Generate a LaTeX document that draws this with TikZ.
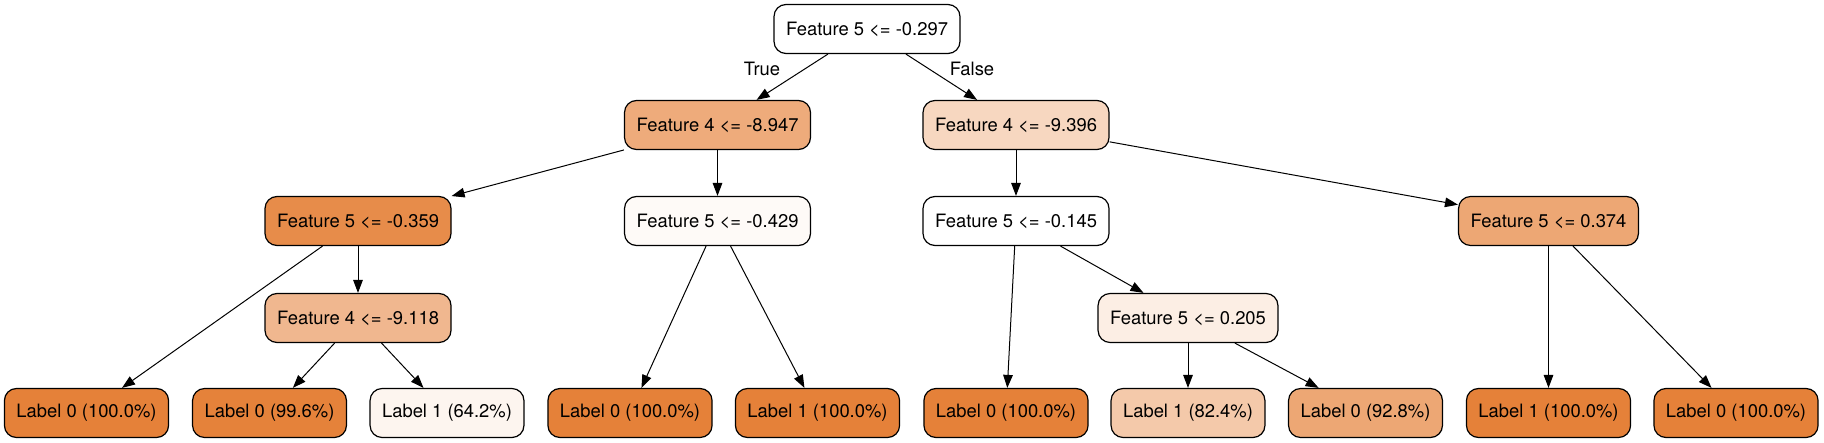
\documentclass[tikz,border=0pt]{standalone}
\usepackage{fontspec}
\setmainfont{TeX Gyre Heros}
\usetikzlibrary{arrows.meta}

\definecolor{pure}{HTML}{E58139}
\definecolor{nearpure}{HTML}{E5823A}
\definecolor{deep}{HTML}{E78C4A}
\definecolor{mid}{HTML}{EEAB7B}
\definecolor{midb}{HTML}{EDA774}
\definecolor{light}{HTML}{F0B78F}
\definecolor{pale}{HTML}{F4C9AA}
\definecolor{paler}{HTML}{F7D7C0}
\definecolor{faint}{HTML}{FCEEE4}
\definecolor{fainter}{HTML}{FDF5EF}
\definecolor{ghost}{HTML}{FEFAF7}

\begin{document}
\begin{tikzpicture}[x=0.5pt, y=-0.5pt,
    box/.style={rectangle, draw, line width=0.6pt, rounded corners=6pt,
                minimum height=24.5pt, inner xsep=6pt,
                font=\fontsize{9.2pt}{11pt}\selectfont},
    edge/.style={-{Triangle[length=6.5pt, width=4.8pt]}, line width=0.5pt},
    edgelabel/.style={font=\fontsize{9.2pt}{11pt}\selectfont},
  ]
  \useasboundingbox (0,0) rectangle (1824,443);
  %splits
  \node[box, fill=white](root) at (867,29) {Feature 5 <= -0.297};
  \node[box, fill=mid](f4a) at (717.5,125) {Feature 4 <= -8.947};
  \node[box, fill=paler](f4b) at (1016,125) {Feature 4 <= -9.396};
  \node[box, fill=deep](f5a) at (358,221) {Feature 5 <= -0.359};
  \node[box, fill=ghost](f5b) at (717.5,221) {Feature 5 <= -0.429};
  \node[box, fill=white](f5c) at (1016,221) {Feature 5 <= -0.145};
  \node[box, fill=midb](f5d) at (1548.5,221) {Feature 5 <= 0.374};
  \node[box, fill=light](f4c) at (358,318) {Feature 4 <= -9.118};
  \node[box, fill=faint](f5e) at (1188,318) {Feature 5 <= 0.205};
  %leaves
  \node[box, fill=pure](l1) at (86.5,413) {Label 0 (100.0\%)};
  \node[box, fill=nearpure](l2) at (269.5,413) {Label 0 (99.6\%)};
  \node[box, fill=fainter](l3) at (447,413) {Label 1 (64.2\%)};
  \node[box, fill=pure](l4) at (630,413) {Label 0 (100.0\%)};
  \node[box, fill=pure](l5) at (817.5,413) {Label 1 (100.0\%)};
  \node[box, fill=pure](l6) at (1006,413) {Label 0 (100.0\%)};
  \node[box, fill=pale](l7) at (1188,413) {Label 1 (82.4\%)};
  \node[box, fill=midb](l8) at (1365.5,413) {Label 0 (92.8\%)};
  \node[box, fill=pure](l9) at (1548.5,413) {Label 1 (100.0\%)};
  \node[box, fill=pure](l10) at (1736,413) {Label 0 (100.0\%)};
  %edges
  \draw[edge] (root) -- (f4a);
  \draw[edge] (root) -- (f4b);
  \node[edgelabel](true) at (762,69) {True};
  \node[edgelabel](false) at (972,69) {False};
  \draw[edge] (f4a) -- (f5a);
  \draw[edge] (f4a) -- (f5b);
  \draw[edge] (f4b) -- (f5c);
  \draw[edge] (f4b) -- (f5d);
  \draw[edge] (f5a) -- (l1);
  \draw[edge] (f5a) -- (f4c);
  \draw[edge] (f4c) -- (l2);
  \draw[edge] (f4c) -- (l3);
  \draw[edge] (f5b) -- (l4);
  \draw[edge] (f5b) -- (l5);
  \draw[edge] (f5c) -- (l6);
  \draw[edge] (f5c) -- (f5e);
  \draw[edge] (f5e) -- (l7);
  \draw[edge] (f5e) -- (l8);
  \draw[edge] (f5d) -- (l9);
  \draw[edge] (f5d) -- (l10);
\end{tikzpicture}
\end{document}
